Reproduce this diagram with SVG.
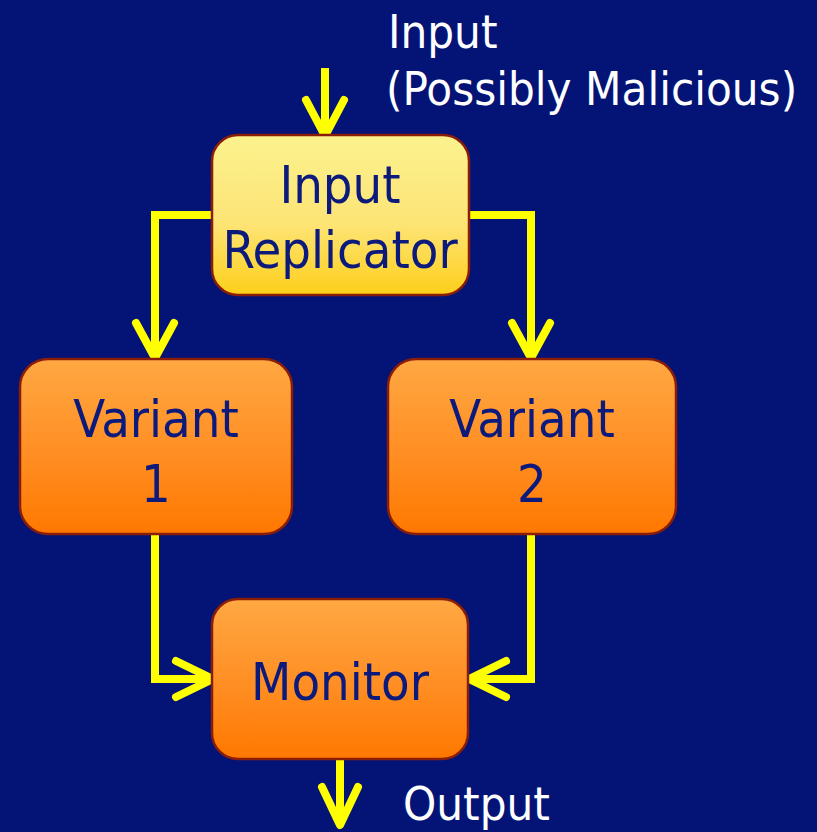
<svg xmlns="http://www.w3.org/2000/svg" width="817" height="832" viewBox="0 0 817 832">
  <defs>
    <linearGradient id="gradYellow" x1="0" y1="0" x2="0" y2="1">
      <stop offset="0" stop-color="#fbf28e"/>
      <stop offset="0.55" stop-color="#fde476"/>
      <stop offset="1" stop-color="#fdcf1a"/>
    </linearGradient>
    <linearGradient id="gradOrange" x1="0" y1="0" x2="0" y2="1">
      <stop offset="0" stop-color="#ffa842"/>
      <stop offset="0.5" stop-color="#ff9026"/>
      <stop offset="1" stop-color="#ff7800"/>
    </linearGradient>
    <style>
      .box { stroke: #8a1d08; stroke-width: 2.5; }
      .label { font-family: "DejaVu Sans Condensed", "DejaVu Sans", sans-serif; fill: #0c1a7c; text-anchor: middle; font-size: 52px; }
      .note { font-family: "DejaVu Sans Condensed", "DejaVu Sans", sans-serif; fill: #ffffff; font-size: 47px; }
      .wire { fill: none; stroke: #ffff00; stroke-width: 8; stroke-linecap: butt; stroke-linejoin: miter; }
      .head { fill: none; stroke: #ffff00; stroke-width: 8; stroke-linecap: round; stroke-linejoin: round; }
    </style>
  </defs>

  <rect x="0" y="0" width="817" height="832" fill="#031476"/>

  <!-- connectors -->
  <g id="connectors">
    <!-- incoming input -->
    <path class="wire" d="M325 68 V134"/>
    <path class="head" d="M306 100 L325 136 L344 100"/>
    <!-- replicator to variant 1 -->
    <path class="wire" d="M212 215 H155 V356"/>
    <path class="head" d="M136 323 L155 358 L174 323"/>
    <!-- replicator to variant 2 -->
    <path class="wire" d="M469 215 H531 V356"/>
    <path class="head" d="M512 323 L531 358 L550 323"/>
    <!-- variant 1 to monitor -->
    <path class="wire" d="M155 535 V679 H212"/>
    <path class="head" d="M176 661 L213 679 L176 697"/>
    <!-- variant 2 to monitor -->
    <path class="wire" d="M531 535 V679 H470"/>
    <path class="head" d="M506 661 L469 679 L506 697"/>
    <!-- outgoing output -->
    <path class="wire" d="M340 760 V824"/>
    <path class="head" d="M322 787 L340 825 L358 787"/>
  </g>

  <g id="replicator">
    <rect class="box" x="212" y="135" width="257" height="160" rx="26" ry="26" fill="url(#gradYellow)"/>
    <text class="label" x="340" y="203">Input</text>
    <text class="label" x="340" y="268">Replicator</text>
  </g>

  <g id="variant1">
    <rect class="box" x="20" y="359" width="272" height="175" rx="28" ry="28" fill="url(#gradOrange)"/>
    <text class="label" x="156" y="437">Variant</text>
    <text class="label" x="156" y="502">1</text>
  </g>

  <g id="variant2">
    <rect class="box" x="388" y="359" width="288" height="175" rx="28" ry="28" fill="url(#gradOrange)"/>
    <text class="label" x="532" y="437">Variant</text>
    <text class="label" x="532" y="502">2</text>
  </g>

  <g id="monitor">
    <rect class="box" x="212" y="599" width="256" height="160" rx="26" ry="26" fill="url(#gradOrange)"/>
    <text class="label" x="340" y="700">Monitor</text>
  </g>

  <g id="labels">
    <text class="note" x="388" y="48">Input</text>
    <text class="note" x="386" y="105">(Possibly Malicious)</text>
    <text class="note" x="403" y="820">Output</text>
  </g>
</svg>
